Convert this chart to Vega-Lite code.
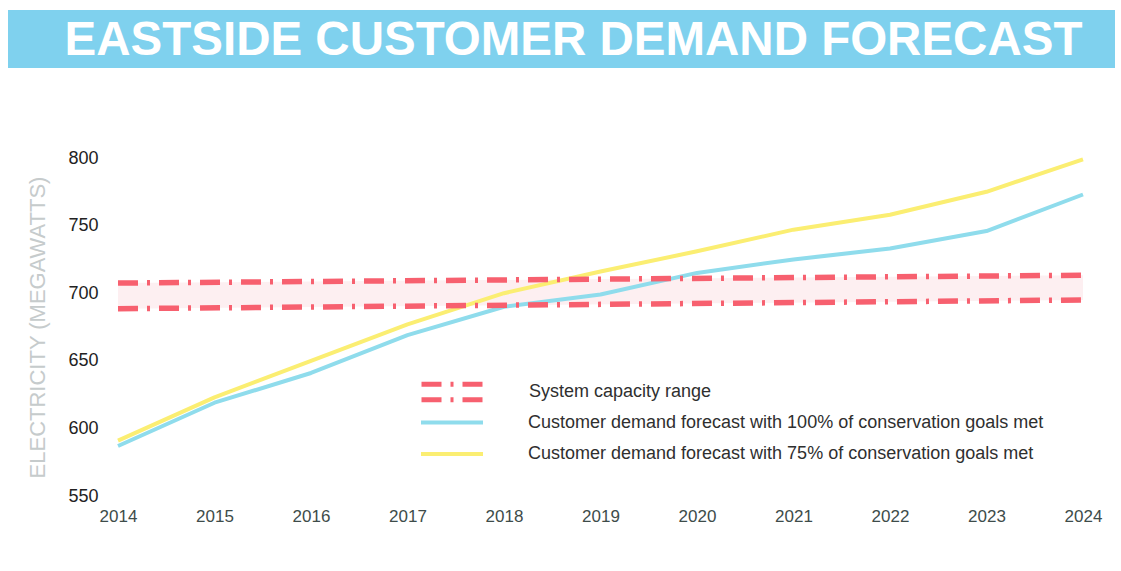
{
  "$schema": "https://vega.github.io/schema/vega-lite/v6.json",
  "background": "white",
  "padding": {"left": 8, "top": 10, "right": 5, "bottom": 5},
  "spacing": 81,
  "config": {"view": {"stroke": null}, "font": "Liberation Sans"},
  "datasets": {
    "forecast": [
      {"year": 2014, "series": "Customer demand forecast with 100% of conservation goals met", "mw": 587},
      {"year": 2015, "series": "Customer demand forecast with 100% of conservation goals met", "mw": 619},
      {"year": 2016, "series": "Customer demand forecast with 100% of conservation goals met", "mw": 641},
      {"year": 2017, "series": "Customer demand forecast with 100% of conservation goals met", "mw": 669},
      {"year": 2018, "series": "Customer demand forecast with 100% of conservation goals met", "mw": 690},
      {"year": 2019, "series": "Customer demand forecast with 100% of conservation goals met", "mw": 699},
      {"year": 2020, "series": "Customer demand forecast with 100% of conservation goals met", "mw": 715},
      {"year": 2021, "series": "Customer demand forecast with 100% of conservation goals met", "mw": 725},
      {"year": 2022, "series": "Customer demand forecast with 100% of conservation goals met", "mw": 733},
      {"year": 2023, "series": "Customer demand forecast with 100% of conservation goals met", "mw": 746},
      {"year": 2024, "series": "Customer demand forecast with 100% of conservation goals met", "mw": 773},
      {"year": 2014, "series": "Customer demand forecast with 75% of conservation goals met", "mw": 591},
      {"year": 2015, "series": "Customer demand forecast with 75% of conservation goals met", "mw": 623},
      {"year": 2016, "series": "Customer demand forecast with 75% of conservation goals met", "mw": 650},
      {"year": 2017, "series": "Customer demand forecast with 75% of conservation goals met", "mw": 677},
      {"year": 2018, "series": "Customer demand forecast with 75% of conservation goals met", "mw": 700},
      {"year": 2019, "series": "Customer demand forecast with 75% of conservation goals met", "mw": 716},
      {"year": 2020, "series": "Customer demand forecast with 75% of conservation goals met", "mw": 731},
      {"year": 2021, "series": "Customer demand forecast with 75% of conservation goals met", "mw": 747},
      {"year": 2022, "series": "Customer demand forecast with 75% of conservation goals met", "mw": 758},
      {"year": 2023, "series": "Customer demand forecast with 75% of conservation goals met", "mw": 775},
      {"year": 2024, "series": "Customer demand forecast with 75% of conservation goals met", "mw": 799}
    ],
    "capacity": [
      {"year": 2014, "name": "System capacity range", "low": 688.5, "high": 707.5},
      {"year": 2024, "name": "System capacity range", "low": 695, "high": 713.3}
    ]
  },
  "vconcat": [
    {
      "width": 1107,
      "height": 58,
      "view": {"fill": "#7fd1ee", "stroke": null},
      "data": {"values": [{"t": "EASTSIDE CUSTOMER DEMAND FORECAST"}]},
      "mark": {"type": "text", "font": "Liberation Sans", "fontWeight": "bold", "fontSize": 47.5, "color": "white", "align": "center", "baseline": "middle", "dx": 12, "dy": 2},
      "encoding": {"text": {"field": "t"}}
    },
    {
      "width": 1075,
      "height": 338,
      "encoding": {
        "x": {
          "field": "year", "type": "quantitative",
          "scale": {"domain": [2012.86, 2024], "nice": false, "zero": false},
          "axis": {"title": null, "values": [2014, 2015, 2016, 2017, 2018, 2019, 2020, 2021, 2022, 2023, 2024], "format": "d", "grid": false, "ticks": false, "domain": false, "labelFlush": false, "labelPadding": 12, "labelFontSize": 17, "labelColor": "#3e4c4a", "labelFont": "Liberation Sans"}
        }
      },
      "layer": [
        {
          "data": {"name": "capacity"},
          "mark": {"type": "area", "color": "#fdebed", "opacity": 0.8},
          "encoding": {
            "y": {
              "field": "low", "type": "quantitative",
              "scale": {"domain": [550, 800], "nice": false, "zero": false},
              "axis": {"offset": -110, "title": "ELECTRICITY (MEGAWATTS)", "titleFontSize": 22, "titleFontWeight": "normal", "titleColor": "#c6cbcc", "titlePadding": 18, "values": [550, 600, 650, 700, 750, 800], "grid": false, "ticks": false, "domain": false, "labelPadding": 20, "labelFontSize": 18, "labelColor": "#222222", "labelFont": "Liberation Sans"}
            },
            "y2": {"field": "high"}
          }
        },
        {
          "data": {"name": "forecast"},
          "mark": {"type": "line", "strokeWidth": 4, "interpolate": "linear", "strokeJoin": "round"},
          "encoding": {
            "y": {"field": "mw", "type": "quantitative"},
            "color": {
              "field": "series", "type": "nominal",
              "scale": {"domain": ["Customer demand forecast with 100% of conservation goals met", "Customer demand forecast with 75% of conservation goals met"], "range": ["#8fdcec", "#fbee72"]},
              "legend": {"orient": "none", "legendX": 426.5, "legendY": 247, "title": null, "padding": 0, "symbolType": "M-2,0H2", "symbolSize": 961, "symbolStrokeWidth": 4, "labelOffset": 58.5, "labelFontSize": 18, "labelFont": "Liberation Sans", "labelColor": "#2f2f2f", "labelLimit": 0, "rowPadding": 4.5}
            }
          }
        },
        {
          "data": {"name": "capacity"},
          "transform": [{"fold": ["low", "high"], "as": ["bound", "cap"]}],
          "mark": {"type": "line", "strokeWidth": 5.5, "strokeDash": [20, 9, 3, 9], "strokeCap": "butt"},
          "encoding": {
            "y": {"field": "cap", "type": "quantitative"},
            "detail": {"field": "bound"},
            "color": {
              "field": "name", "type": "nominal",
              "scale": {"range": ["#f7606f"]},
              "legend": {"orient": "none", "legendX": 426.5, "legendY": 216, "title": null, "padding": 0, "symbolType": "M-2,-0.5H2M-2,0.5H2", "symbolSize": 961, "symbolStrokeWidth": 5, "symbolDash": [20, 9, 3, 9], "labelOffset": 58.5, "labelFontSize": 18, "labelFont": "Liberation Sans", "labelColor": "#2f2f2f", "labelLimit": 0}
            }
          }
        }
      ],
      "resolve": {"scale": {"color": "independent"}, "legend": {"color": "independent"}}
    }
  ]
}
